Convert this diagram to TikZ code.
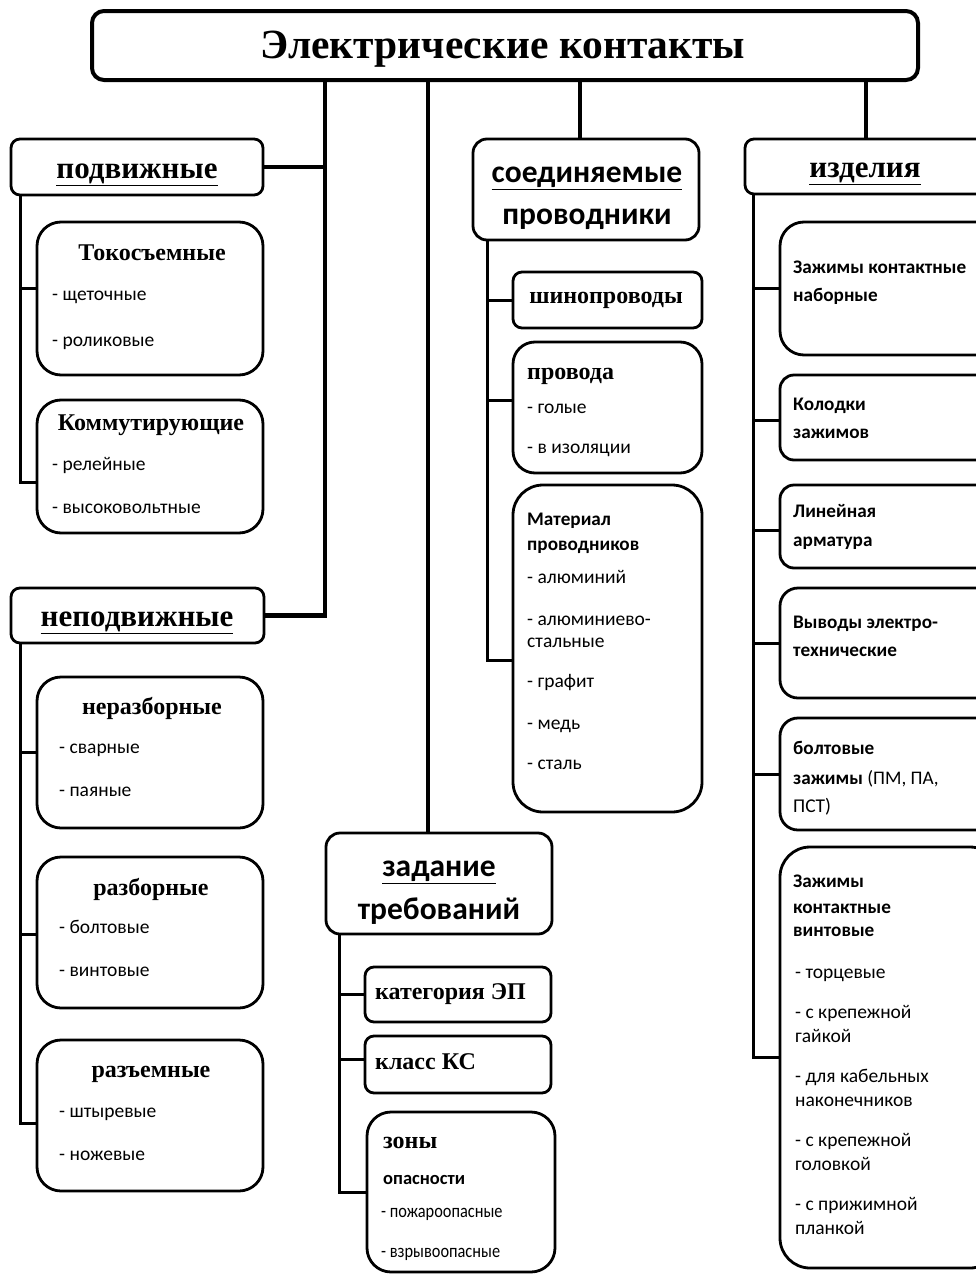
\documentclass[tikz,border=0pt]{standalone}
\usepackage{fontspec}
\setmainfont{Liberation Serif}
\newfontfamily\sansfont{Carlito}
\newfontfamily\narrowfont[FakeStretch=0.86]{Carlito}
\usetikzlibrary{positioning}

\begin{document}
\begin{tikzpicture}[x=1pt, y=-1pt,
  topbox/.style={draw, line width=4pt, rounded corners=12pt, inner sep=0pt},
  headbox/.style={draw, line width=2.8pt, rounded corners=9pt, inner sep=0pt},
  itembox/.style={draw, line width=2.8pt, inner sep=0pt},
  trunk/.style={line width=4.5pt},
  branch/.style={line width=3pt},
  titletext/.style={font=\fontsize{41.5}{48}\selectfont\bfseries, inner sep=0pt, anchor=mid, yshift=-9pt},
  headtext/.style={font=\fontsize{31}{36}\selectfont\bfseries, inner sep=0pt, anchor=mid, yshift=-8pt},
  headsans/.style={font=\fontsize{31.5}{36}\selectfont\sansfont\bfseries, inner sep=0pt, anchor=mid, yshift=-8pt},
  subtext/.style={font=\fontsize{24}{28}\selectfont\bfseries, inner sep=0pt, yshift=-5.5pt},
  itemtext/.style={font=\fontsize{19.5}{22}\selectfont\sansfont, inner sep=0pt, anchor=mid west, yshift=-4.5pt},
  itembold/.style={font=\fontsize{19.2}{22}\selectfont\sansfont\bfseries, inner sep=0pt, anchor=mid west, yshift=-4.5pt},
  narrowtext/.style={font=\fontsize{19}{22}\selectfont\narrowfont, inner sep=0pt, anchor=mid west, yshift=-4.5pt}]

\useasboundingbox (0,0) rectangle (976,1274);
\clip (0,0) rectangle (976,1274);

% main box and first level
\node[topbox, minimum width=826pt, minimum height=69pt] (top) at (505,45.5) {};
\node[titletext] (top-t) at (503,47) {Электрические контакты};

\node[headbox, minimum width=252pt, minimum height=56pt] (pod) at (137,167) {};
\node[headbox, minimum width=253pt, minimum height=55pt] (nepod) at (137.5,615.5) {};
\node[headbox, minimum width=226pt, minimum height=101pt, rounded corners=14pt] (soed) at (586,189.5) {};
\node[headbox, minimum width=226pt, minimum height=101pt, rounded corners=14pt] (zad) at (439,883.5) {};
\node[headbox, minimum width=240pt, minimum height=55pt] (izd) at (865,166.5) {};

\node[headtext] (pod-t) at (137,168) {\underline{подвижные}};
\node[headtext] (nepod-t) at (137,616) {\underline{неподвижные}};
\node[headtext] (izd-t) at (865,167) {\underline{изделия}};
\node[headsans] (soed-t) at (587,172) {\underline{соединяемые}};
\node[headsans] (soed-u) at (587,214) {проводники};
\node[headsans] (zad-t) at (439,866) {\underline{задание}};
\node[headsans] (zad-u) at (439,909) {требований};

% second level boxes
\foreach \n/\cx/\cy/\w/\h/\r in {tok/150/298.5/226/153/24, kom/150/466.5/226/133/24,
    nerazb/150/752.5/226/151/24, razb/150/932.5/226/151/24, razem/150/1115.5/226/151/24,
    shin/607.5/300/189/56/9, prov/607.5/407.5/189/131/22, mat/607.5/648.5/189/327/30,
    kat/458/994.5/186/55/9, klass/458/1064.5/186/57/9, zony/461/1192/188/160/24,
    nabor/890/288.5/220/133/24, kolod/890/417.5/220/85/14, lin/890/526.5/220/83/14,
    vyv/890/643/220/110/18, bolt/890/774/220/112/18, vint/890/1057.5/220/421/30}{
  \node[itembox, rounded corners=\r pt, minimum width=\w pt, minimum height=\h pt] (\n) at (\cx,\cy) {};
}

% texts of the left column
\node[subtext, anchor=mid] (tok-t) at (152,253) {Токосъемные};
\foreach \t/\y [count=\i] in {{- щеточные}/294, {- роликовые}/340}
  \node[itemtext] (tok-\i) at (52,\y) {\t};
\node[subtext, anchor=mid] (kom-t) at (151,423) {Коммутирующие};
\foreach \t/\y [count=\i] in {{- релейные}/464, {- высоковольтные}/507}
  \node[itemtext] (kom-\i) at (52,\y) {\t};
\node[subtext, anchor=mid] (nerazb-t) at (152,707) {неразборные};
\foreach \t/\y [count=\i] in {{- сварные}/747, {- паяные}/790}
  \node[itemtext] (nerazb-\i) at (59,\y) {\t};
\node[subtext, anchor=mid] (razb-t) at (151,888) {разборные};
\foreach \t/\y [count=\i] in {{- болтовые}/927, {- винтовые}/970}
  \node[itemtext] (razb-\i) at (59,\y) {\t};
\node[subtext, anchor=mid] (razem-t) at (151,1070) {разъемные};
\foreach \t/\y [count=\i] in {{- штыревые}/1111, {- ножевые}/1154}
  \node[itemtext] (razem-\i) at (59,\y) {\t};

% texts of the middle column
\node[subtext, anchor=mid] (shin-t) at (606,296) {шинопроводы};
\node[subtext, anchor=mid west] (prov-t) at (527,372) {провода};
\foreach \t/\y [count=\i] in {{- голые}/407, {- в изоляции}/447}
  \node[itemtext] (prov-\i) at (527,\y) {\t};
\foreach \t/\y [count=\i] in {Материал/519, проводников/544}
  \node[itembold] (mat-t\i) at (527,\y) {\t};
\foreach \t/\y [count=\i] in {{- алюминий}/577, {- алюминиево-}/619, стальные/641,
    {- графит}/681, {- медь}/723, {- сталь}/763}
  \node[itemtext] (mat-\i) at (527,\y) {\t};

\node[subtext, anchor=mid west] (kat-t) at (375,992) {категория ЭП};
\node[subtext, anchor=mid west] (klass-t) at (375,1062) {класс КС};
\node[subtext, anchor=mid west] (zony-t) at (383,1141) {зоны};
\node[itembold, font=\fontsize{18.5}{22}\selectfont\sansfont\bfseries] (zony-u) at (383,1178) {опасности};
\foreach \t/\y [count=\i] in {{- пожароопасные}/1211, {- взрывоопасные}/1251}
  \node[narrowtext] (zony-\i) at (381,\y) {\t};

% texts of the right column
\foreach \n/\t/\y in {nabor/{Зажимы контактные}/267, nabor/наборные/295,
    kolod/Колодки/404, kolod/зажимов/432, lin/Линейная/511, lin/арматура/540,
    vyv/{Выводы электро-}/622, vyv/технические/650, bolt/болтовые/748,
    vint/Зажимы/881, vint/контактные/907, vint/винтовые/930}
  \node[itembold] (\n-\y) at (793,\y) {\t};
\node[itembold] (bolt-778) at (793,778) {зажимы \mdseries(ПМ, ПА,};
\node[itemtext] (bolt-806) at (793,806) {ПСТ)};
\foreach \t/\y in {{- торцевые}/972, {- с крепежной}/1012, гайкой/1036,
    {- для кабельных}/1076, наконечников/1100, {- с крепежной}/1140,
    головкой/1164, {- с прижимной}/1204, планкой/1228}
  \node[itemtext] (vint-\y) at (795,\y) {\t};

% connectors
\coordinate (ta) at (325,0);
\coordinate (tb) at (428,0);
\coordinate (tc) at (580,0);
\coordinate (td) at (866,0);
\draw[trunk] (top.south -| ta) |- (pod.east);
\draw[trunk] (top.south -| ta) |- (nepod.east);
\draw[trunk] (top.south -| tb) -- (zad.north -| tb);
\draw[trunk] (top.south -| tc) -- (soed.north -| tc);
\draw[trunk] (top.south -| td) -- (izd.north -| td);

\coordinate (la) at (20,0);
\coordinate (lb) at (487,0);
\coordinate (lc) at (339,0);
\coordinate (ld) at (753,0);
\foreach \b/\s in {tok/10.5, kom/-15.5}
  \draw[branch] (pod.south -| la) |- ([yshift=\s pt]\b.west);
\foreach \b/\s in {nerazb/0, razb/-1.5, razem/-7.5}
  \draw[branch] (nepod.south -| la) |- ([yshift=\s pt]\b.west);
\foreach \b/\s in {shin/0, prov/7.5, mat/-11.5}
  \draw[branch] (soed.south -| lb) |- ([yshift=\s pt]\b.west);
\foreach \b/\s in {kat/0, klass/5.5, zony/0}
  \draw[branch] (zad.south -| lc) |- ([yshift=\s pt]\b.west);
\foreach \b/\s in {nabor/0, kolod/-2.5, lin/-3.5, vyv/0, bolt/0, vint/0}
  \draw[branch] (izd.south -| ld) |- ([yshift=\s pt]\b.west);

\end{tikzpicture}
\end{document}
